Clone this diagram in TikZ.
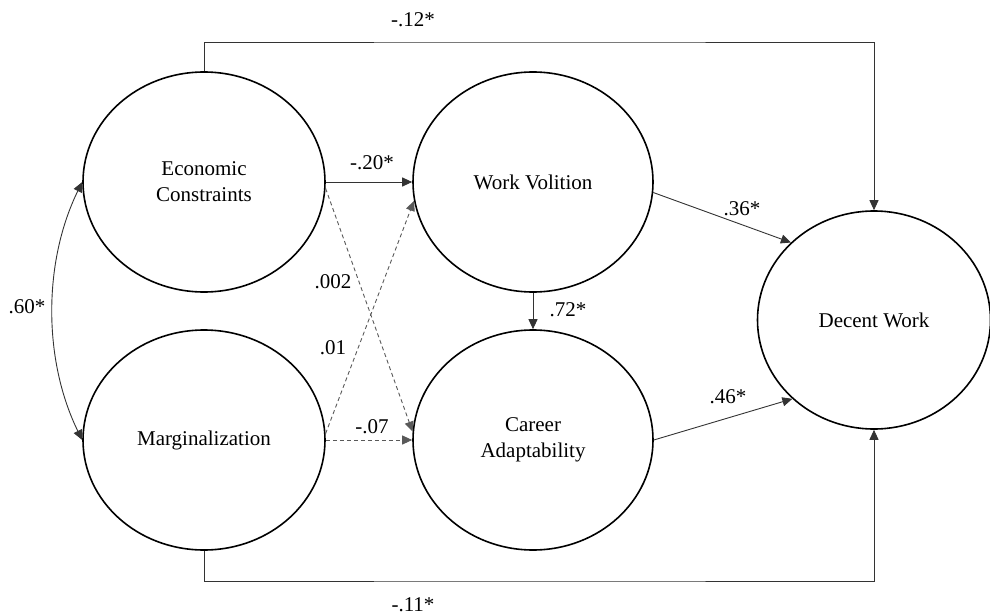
\documentclass[tikz,border=0pt]{standalone}
\usepackage{fontspec}
\setmainfont{Liberation Serif}
\usetikzlibrary{shapes.geometric,arrows.meta}
\begin{document}
\begin{tikzpicture}[x=0.5pt,y=-0.5pt,
  latent/.style={ellipse,draw=black,line width=0.8pt,inner sep=0pt,
    font=\fontsize{10.5}{13}\selectfont,align=center},
  conn/.style={draw=black!80,line width=0.45pt,-{Triangle[length=5pt,width=4.5pt]}},
  dconn/.style={conn,dashed,dash pattern=on 2pt off 1.5pt,draw=black!65},
  lbl/.style={font=\fontsize{10.5}{12}\selectfont,inner sep=0pt}]
\useasboundingbox (0,0) rectangle (990,615);
\node[latent,minimum width=121pt,minimum height=110pt] (ec) at (204,182) {Economic\\Constraints};
\node[latent,minimum width=121pt,minimum height=110pt] (mg) at (204,440) {Marginalization};
\node[latent,minimum width=120pt,minimum height=110pt] (wv) at (533,182) {Work Volition};
\node[latent,minimum width=120pt,minimum height=110pt] (ca) at (533,440) {Career\\Adaptability};
\node[latent,minimum width=116.5pt,minimum height=109pt] (dw) at (874,320) {Decent Work};
\coordinate (top) at (540,42);
\coordinate (bot) at (540,581);
\coordinate (c1) at (43,262);
\coordinate (c2) at (43,360);
% paths
\draw[conn] (ec.north) |- (top) -| (dw.north);
\draw[conn] (mg.south) |- (bot) -| (dw.south);
\draw[conn] (ec.east) -- (wv.west);
\draw[conn] (wv.south) -- (ca.north);
\draw[conn] (wv.-5) -- (dw.137);
\draw[conn] (ca.east) -- (dw.224);
\draw[dconn] (ec.-3) -- (ca.176);
\draw[dconn] (mg.3) -- (wv.189);
\draw[dconn] (mg.east) -- (ca.west);
\draw[draw=black!80,line width=0.45pt,{Triangle[length=5pt,width=4.5pt]}-{Triangle[length=5pt,width=4.5pt]}] (ec.west) .. controls (c1) and (c2) .. (mg.west);
% labels
\node[lbl] (l1) at (413,20) {-.12*};
\node[lbl] (l2) at (372,163) {-.20*};
\node[lbl] (l3) at (333,282) {.002};
\node[lbl] (l4) at (333,348) {.01};
\node[lbl] (l5) at (372,427) {-.07};
\node[lbl] (l6) at (742,209) {.36*};
\node[lbl] (l7) at (568,310) {.72*};
\node[lbl] (l8) at (728,397) {.46*};
\node[lbl] (l9) at (27,307) {.60*};
\node[lbl] (l10) at (413,605) {-.11*};
\end{tikzpicture}
\end{document}
